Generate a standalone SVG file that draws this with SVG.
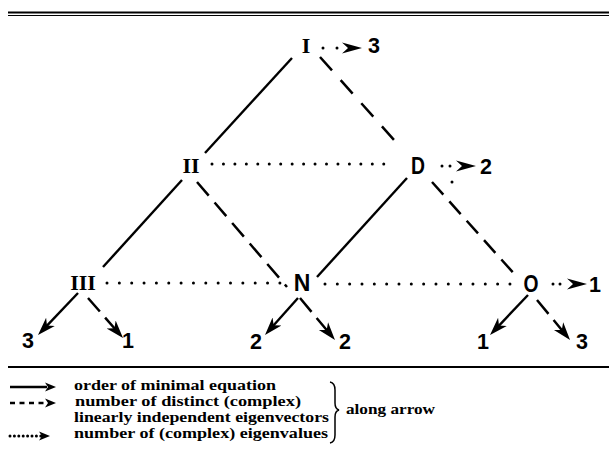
<svg xmlns="http://www.w3.org/2000/svg" width="609" height="453" viewBox="0 0 609 453">
<style>
.bg{fill:#fff}
.solid{stroke:#000;stroke-width:2.4;fill:none}
.dash{stroke:#000;stroke-width:2.5;fill:none;stroke-dasharray:18 13}
.dashs{stroke:#000;stroke-width:2.5;fill:none;stroke-dasharray:18 8}
.dot{stroke:#000;stroke-width:3;fill:none;stroke-linecap:round}
.rn{font-family:"Liberation Serif",serif;font-weight:bold;font-size:22px;text-anchor:middle;fill:#000}
.lt{font-family:"Liberation Sans",sans-serif;font-weight:bold;font-size:23px;text-anchor:middle;fill:#000}
.num{font-family:"Liberation Sans",sans-serif;font-weight:bold;font-size:21.5px;text-anchor:middle;fill:#000}
.leg{font-family:"Liberation Serif",serif;font-weight:bold;font-size:14.4px;fill:#000}
.rule{stroke:#000;fill:none}
</style>
<defs>
<marker id="arr" viewBox="0 -7 18 14" refX="6" refY="0" markerWidth="18" markerHeight="14" markerUnits="userSpaceOnUse" orient="auto">
<path d="M0,-6 L18,0 L0,6 L5,0 Z" fill="#000"/>
</marker>
<marker id="darr" viewBox="0 -6 20 12" refX="0" refY="0" markerWidth="20" markerHeight="12" markerUnits="userSpaceOnUse" orient="auto">
<path d="M0,-5.5 L20,0 L0,5.5 L6,0 Z" fill="#000"/>
</marker>
<marker id="larr" viewBox="0 -5 11 10" refX="2" refY="0" markerWidth="11" markerHeight="10" markerUnits="userSpaceOnUse" orient="auto">
<path d="M0,-4.5 L11,0 L0,4.5 L3,0 Z" fill="#000"/>
</marker>
</defs>
<rect class="bg" x="0" y="0" width="609" height="453"/>
<g id="rules">
<line class="rule" x1="8" y1="12.5" x2="609" y2="12.5" stroke-width="2"/>
<line class="rule" x1="8" y1="15.5" x2="609" y2="15.5" stroke-width="1"/>
<line class="rule" x1="8" y1="367" x2="609" y2="367" stroke-width="2"/>
</g>
<g id="connectors">
<line class="solid" x1="292" y1="58" x2="205" y2="153"/>
<line class="dash" x1="320" y1="57" x2="395" y2="141"/>
<line class="solid" x1="182" y1="180" x2="103" y2="267"/>
<line class="dash" x1="197" y1="182" x2="287" y2="287" style="stroke-dasharray:18 9"/>
<line class="solid" x1="407" y1="178" x2="317" y2="277"/>
<line class="dash" x1="432" y1="182" x2="517" y2="277" style="stroke-dasharray:17 9"/>
<line class="dot" x1="212" y1="164" x2="395" y2="164" stroke-dasharray="0 11.45"/>
<line class="dot" x1="107" y1="283" x2="280" y2="283" stroke-dasharray="0 12.35"/>
<line class="dot" x1="325" y1="284" x2="510" y2="284" stroke-dasharray="0 12.33"/>
<line class="dot" x1="323" y1="48" x2="342" y2="48" stroke-dasharray="0 14" marker-end="url(#darr)"/>
<line class="dot" x1="442" y1="166" x2="456" y2="166" stroke-dasharray="0 8" marker-end="url(#darr)"/>
<circle cx="452" cy="182" r="1.5" fill="#000"/>
<line class="dot" x1="553" y1="284" x2="567" y2="284" stroke-dasharray="0 7" marker-end="url(#darr)"/>
<line class="solid" x1="78" y1="293" x2="46.3" y2="326.3" marker-end="url(#arr)"/>
<line class="dashs" x1="88" y1="298" x2="115.1" y2="329" marker-end="url(#arr)"/>
<line class="solid" x1="298" y1="298" x2="273" y2="326" marker-end="url(#arr)"/>
<line class="dashs" x1="300" y1="298" x2="327.3" y2="330.8" marker-end="url(#arr)"/>
<line class="solid" x1="528" y1="295" x2="498.3" y2="326.3" marker-end="url(#arr)"/>
<line class="dashs" x1="537" y1="300" x2="562.4" y2="330.7" marker-end="url(#arr)"/>
</g>
<g id="n-I"><text class="rn" x="306" y="53">I</text></g>
<g id="n-I-3"><text class="num" x="374" y="53">3</text></g>
<g id="n-II"><text class="rn" x="191" y="173">II</text></g>
<g id="n-D"><text class="lt" x="418" y="174" textLength="14" lengthAdjust="spacingAndGlyphs">D</text></g>
<g id="n-D-2"><text class="num" x="486" y="174">2</text></g>
<g id="n-III"><text class="rn" x="83" y="290">III</text></g>
<g id="n-N"><text class="lt" x="302" y="291">N</text></g>
<g id="n-O"><text class="lt" x="531" y="292" textLength="15" lengthAdjust="spacingAndGlyphs">O</text></g>
<g id="n-O-1"><text class="num" x="595" y="292">1</text></g>
<g id="n-III-3"><text class="num" x="28" y="348">3</text></g>
<g id="n-III-1"><text class="num" x="128" y="348">1</text></g>
<g id="n-N-2a"><text class="num" x="256" y="349">2</text></g>
<g id="n-N-2b"><text class="num" x="345" y="349">2</text></g>
<g id="n-O-1b"><text class="num" x="483" y="349">1</text></g>
<g id="n-O-3"><text class="num" x="582" y="349">3</text></g>
<g id="legend">
<line class="solid" x1="10" y1="387" x2="47" y2="387" stroke-width="1.6" marker-end="url(#larr)"/>
<line class="solid" x1="10" y1="403" x2="47" y2="403" stroke-width="1.8" stroke-dasharray="5 4.5" marker-end="url(#larr)"/>
<line class="dot" x1="10" y1="436" x2="41" y2="436" stroke-width="2" stroke-dasharray="0 4.4" marker-end="url(#larr)"/>
<text class="leg" x="74" y="390" textLength="202" lengthAdjust="spacingAndGlyphs">order of minimal equation</text>
<text class="leg" x="75" y="406" textLength="226" lengthAdjust="spacingAndGlyphs">number of distinct (complex)</text>
<text class="leg" x="74" y="422" textLength="255" lengthAdjust="spacingAndGlyphs">linearly independent eigenvectors</text>
<text class="leg" x="74" y="438" textLength="254" lengthAdjust="spacingAndGlyphs">number of (complex) eigenvalues</text>
<path d="M330,382 Q335,383 335,390 L335,403 Q335,409 339,410 Q335,411 335,417 L335,435 Q335,442 330,443" fill="none" stroke="#000" stroke-width="1.5"/>
<text class="leg" x="346" y="414" textLength="89" lengthAdjust="spacingAndGlyphs">along arrow</text>
</g>
</svg>
